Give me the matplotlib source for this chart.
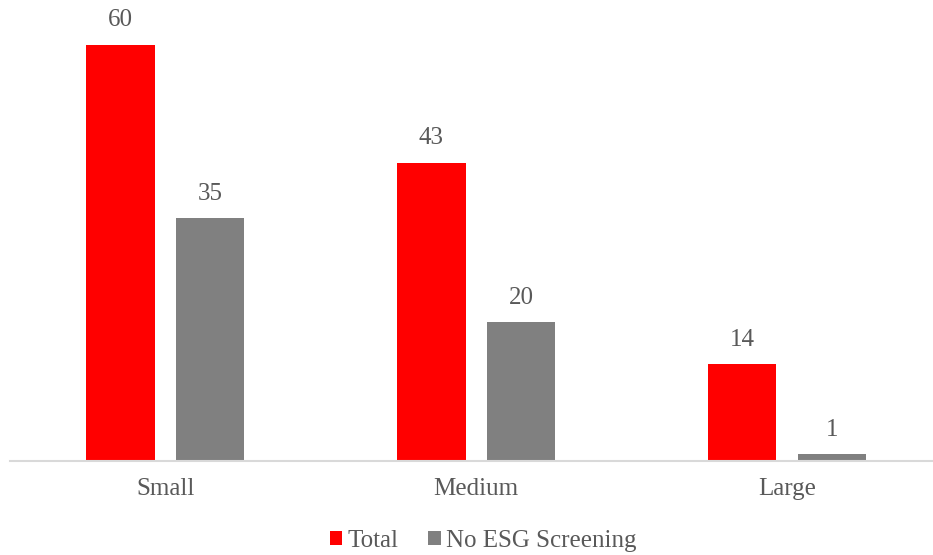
import numpy as np
import matplotlib.pyplot as plt

categories = ['Small', 'Medium', 'Large']
total = [60, 43, 14]
no_esg = [35, 20, 1]

plt.rcParams['font.family'] = ['Liberation Serif', 'DejaVu Serif']
text_color = '#595959'

fig = plt.figure(figsize=(9.33, 5.55), dpi=100)
ax = fig.add_axes([10 / 933, 94 / 555, 923 / 933, 451 / 555])

x = np.arange(len(categories))
w = 0.22
b1 = ax.bar(x - 0.144, total, w, color='#ff0000', label='Total')
b2 = ax.bar(x + 0.144, no_esg, w, color='#808080', label='No ESG Screening')

ax.bar_label(b1, padding=9.5, fontsize=18, color=text_color)
ax.bar_label(b2, padding=9.5, fontsize=18, color=text_color)

ax.set_xlim(-0.5, 2.47)
ax.set_ylim(0, 65)
ax.set_xticks(x)
ax.set_xticklabels(categories, fontsize=18, color=text_color)
ax.tick_params(axis='x', length=0, pad=12.5)
ax.set_yticks([])
for s in ['top', 'right', 'left']:
    ax.spines[s].set_visible(False)
ax.spines['bottom'].set_color('#d9d9d9')
ax.spines['bottom'].set_linewidth(1.5)

leg = fig.legend(loc='center', bbox_to_anchor=(483 / 933, 1 - 541 / 555), ncol=2,
                 frameon=False, fontsize=18, handlelength=0.5, handleheight=0.5,
                 handletextpad=0.2, columnspacing=1.2)
for t in leg.get_texts():
    t.set_color(text_color)

fig.savefig('out.png', dpi=100)
